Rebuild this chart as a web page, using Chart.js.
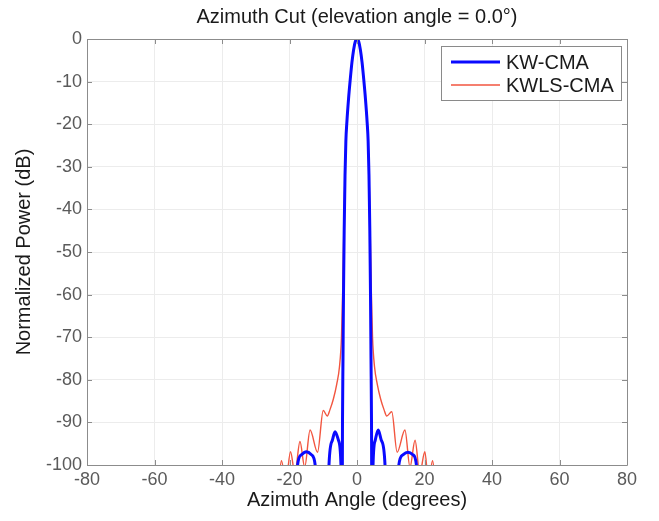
<!DOCTYPE html>
<html>
<head>
<meta charset="utf-8">
<script src="https://cdn.jsdelivr.net/npm/chart.js@4/dist/chart.umd.min.js"></script>
<style>
  html, body { margin: 0; padding: 0; background: #ffffff; }
  #wrap { width: 659px; height: 521px; }
</style>
</head>
<body>
<div id="wrap"><canvas id="c" width="659" height="521"></canvas></div>
<script>
// ---- data ----
const titleText = 'Azimuth Cut (elevation angle = 0.0°)';
const xLabel = 'Azimuth Angle (degrees)';
const yLabel = 'Normalized Power (dB)';
const seriesNames = ['KW-CMA', 'KWLS-CMA'];

const xTicks = [-80, -60, -40, -20, 0, 20, 40, 60, 80];
const yTicks = [0, -10, -20, -30, -40, -50, -60, -70, -80, -90, -100];

// KW-CMA (blue)
const kwAngle = [-80, -25, -18.5, -17.6, -16.5, -15.0, -13.5, -12.4, -10.8, -8.7, -8.3, -7.3, -6.5, -5.5, -4.75, -4.45,
                 -4.3, -4.15, -4.0, -3.8, -3.55, -3.3, -3.0, -2.5, -2.0, -1.5, -1.0, -0.5, 0,
                 0.5, 1.0, 1.5, 2.0, 2.5, 3.0, 3.3, 3.55, 3.8, 4.0, 4.15, 4.3,
                 4.45, 4.75, 5.4, 6.3, 7.2, 8.3, 8.7, 10.8, 12.4, 13.6, 15.1, 16.6, 17.6, 18.5, 25, 80];
const kwPower = [-150, -140, -120, -100, -97.6, -96.9, -97.6, -100, -130, -120, -100, -94.2, -92.2, -94.2, -100, -125,
                 -90, -75, -60, -45, -32, -24, -19.5, -14, -9.5, -5.5, -2.5, -0.6, 0,
                 -0.6, -2.5, -5.5, -9.5, -14, -19.5, -24, -32, -45, -60, -75, -90,
                 -125, -100, -94.2, -91.8, -94.2, -100, -120, -130, -100, -97.6, -97.0, -97.6, -100, -120, -140, -150];

// KWLS-CMA (red)
const kwlsAngle = [-80, -26, -23.6, -22.4, -21.1, -19.7, -18.4, -16.9, -15.5, -13.9, -11.7, -10.0, -8.8, -8.0, -7.0, -6.0, -5.2, -4.6, -4.2,
                   -3.85, -3.55, -3.3, -3.0, -2.5, -2.0, -1.5, -1.0, -0.5, 0,
                   0.5, 1.0, 1.5, 2.0, 2.5, 3.0, 3.3, 3.55, 3.85,
                   4.2, 4.6, 5.2, 6.0, 7.0, 8.0, 8.8, 10.3, 11.9, 14.2, 15.7, 17.2, 18.6, 20.1, 21.2, 22.4, 23.6, 26, 80];
const kwlsPower = [-140, -118, -108, -99, -104, -96.9, -102, -94.5, -100.5, -91.8, -97, -87.2, -88.5, -87, -84.5, -81, -77, -70, -58,
                   -42, -31, -24, -19.5, -14, -9.5, -5.5, -2.5, -0.6, 0,
                   -0.6, -2.5, -5.5, -9.5, -14, -19.5, -24, -31, -42,
                   -58, -70, -77, -81, -84.5, -87, -88.5, -87.5, -97, -91.8, -100.5, -94.2, -102, -96.9, -104, -99, -108, -118, -140];

const seriesColors = ['#0a0aff', '#f2553f'];
const seriesWidths = [3, 1.4];

// ---- plugins ----
const fontFamily = '"Liberation Sans", Arial, sans-serif';
const frameColor = '#8c8c8c';
const boxPlugin = {
  id: 'boxPlugin',
  afterDatasetsDraw(chart) {
    const {ctx, chartArea: a, scales} = chart;
    ctx.save();
    ctx.strokeStyle = frameColor;
    ctx.lineWidth = 1;
    ctx.beginPath();
    ctx.rect(Math.round(a.left) + 0.5, Math.round(a.top) + 0.5, Math.round(a.right - a.left), Math.round(a.bottom - a.top));
    ctx.stroke();
    // inward tick marks
    ctx.beginPath();
    scales.x.ticks.forEach(t => {
      const px = Math.round(scales.x.getPixelForValue(t.value)) + 0.5;
      ctx.moveTo(px, a.bottom); ctx.lineTo(px, a.bottom - 5);
      ctx.moveTo(px, a.top); ctx.lineTo(px, a.top + 5);
    });
    scales.y.ticks.forEach(t => {
      const py = Math.round(scales.y.getPixelForValue(t.value)) + 0.5;
      ctx.moveTo(a.left, py); ctx.lineTo(a.left + 5, py);
      ctx.moveTo(a.right, py); ctx.lineTo(a.right - 5, py);
    });
    ctx.stroke();
    ctx.restore();
  },
  afterDraw(chart) {
    const {ctx, chartArea: a} = chart;
    ctx.save();
    // title centred over the axes
    ctx.fillStyle = '#1a1a1a';
    ctx.font = '20px ' + fontFamily;
    ctx.textAlign = 'center';
    ctx.textBaseline = 'middle';
    ctx.fillText(titleText, (a.left + a.right) / 2, 17);
    // legend box inside the plot, top-right
    const bx = 441.5, by = 46.5, bw = 180, bh = 54;
    ctx.fillStyle = '#ffffff';
    ctx.fillRect(bx, by, bw, bh);
    ctx.strokeStyle = '#8a8a8a';
    ctx.lineWidth = 1;
    ctx.strokeRect(bx, by, bw, bh);
    chart.data.datasets.forEach((ds, i) => {
      const y = 62 + i * 23;
      ctx.strokeStyle = ds.borderColor;
      ctx.lineWidth = ds.borderWidth;
      ctx.beginPath();
      ctx.moveTo(451, y); ctx.lineTo(500, y);
      ctx.stroke();
      ctx.fillStyle = '#1a1a1a';
      ctx.font = '20px ' + fontFamily;
      ctx.textBaseline = 'middle';
      ctx.textAlign = 'left';
      ctx.fillText(ds.label, 506, y + 1);
    });
    ctx.restore();
  }
};

const ctx = document.getElementById('c').getContext('2d');
new Chart(ctx, {
  type: 'line',
  data: {
    datasets: [
      {
        label: seriesNames[0],
        data: kwAngle.map((a, i) => ({x: a, y: kwPower[i]})),
        borderColor: seriesColors[0],
        borderWidth: seriesWidths[0],
        pointRadius: 0,
        fill: false,
        cubicInterpolationMode: 'monotone'
      },
      {
        label: seriesNames[1],
        data: kwlsAngle.map((a, i) => ({x: a, y: kwlsPower[i]})),
        borderColor: seriesColors[1],
        borderWidth: seriesWidths[1],
        pointRadius: 0,
        fill: false,
        cubicInterpolationMode: 'monotone'
      }
    ]
  },
  options: {
    responsive: false,
    animation: false,
    layout: { padding: { top: 39, right: 32, bottom: 0, left: 0 } },
    plugins: {
      legend: { display: false },
      tooltip: { enabled: false },
      title: { display: false }
    },
    scales: {
      x: {
        type: 'linear',
        min: -80, max: 80,
        afterFit(s) { s.height = 56; },
        afterBuildTicks(s) { s.ticks = xTicks.map(v => ({value: v})); },
        grid: { color: '#ececec', drawTicks: false, lineWidth: 1 },
        border: { display: false },
        ticks: {
          color: '#5a5a5a',
          padding: 4,
          maxRotation: 0,
          autoSkip: false,
          font: { family: fontFamily, size: 18 }
        },
        title: {
          display: true,
          text: xLabel,
          color: '#1a1a1a',
          font: { family: fontFamily, size: 20 },
          padding: { top: 0, bottom: 9 }
        }
      },
      y: {
        type: 'linear',
        min: -100, max: 0,
        afterFit(s) { s.width = 87; },
        afterBuildTicks(s) { s.ticks = yTicks.map(v => ({value: v})); },
        grid: { color: '#ececec', drawTicks: false, lineWidth: 1 },
        border: { display: false },
        ticks: {
          color: '#5a5a5a',
          padding: 5,
          autoSkip: false,
          font: { family: fontFamily, size: 18 }
        },
        title: {
          display: true,
          text: yLabel,
          color: '#1a1a1a',
          font: { family: fontFamily, size: 20 },
          padding: { top: 12, bottom: 0 }
        }
      }
    }
  },
  plugins: [boxPlugin]
});
</script>
</body>
</html>
